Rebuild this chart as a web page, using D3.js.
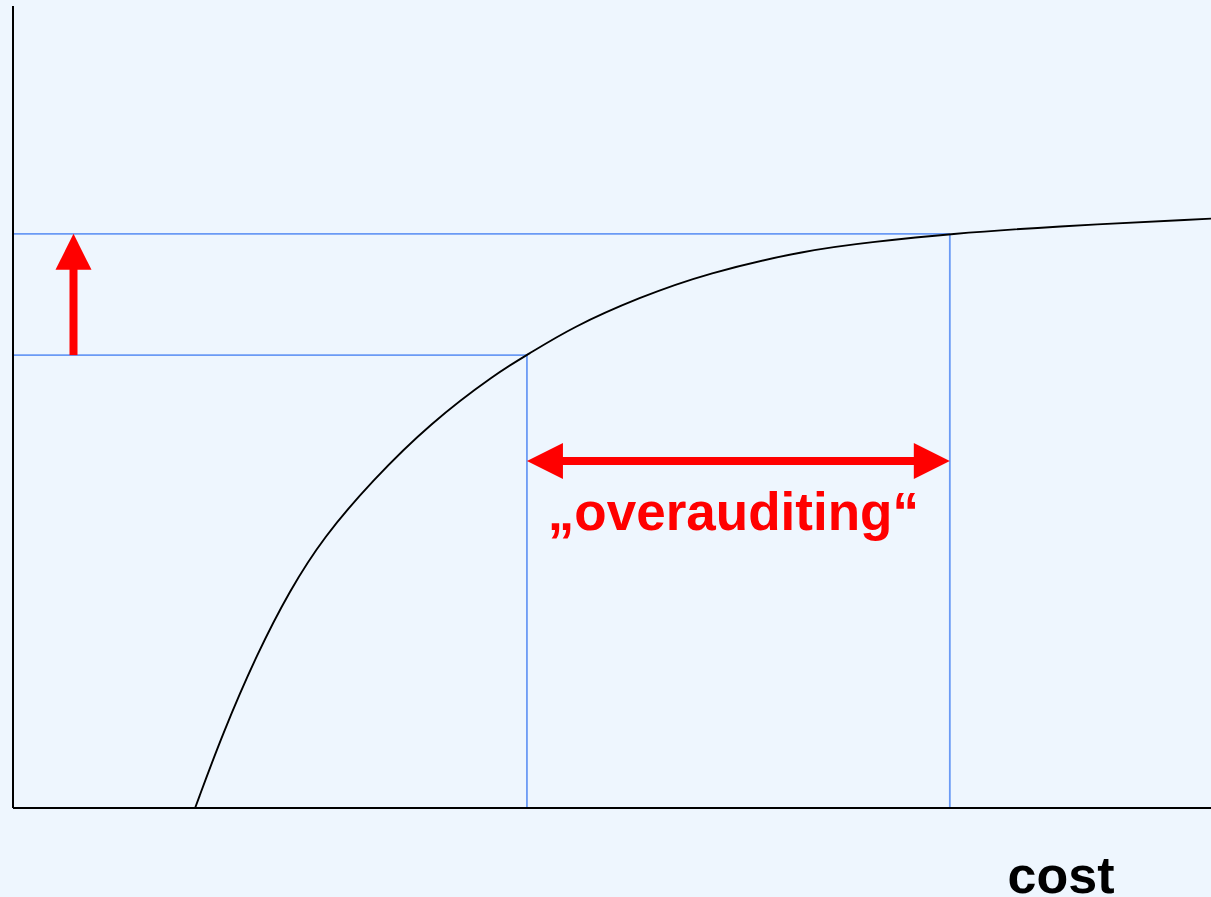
<!DOCTYPE html>
<html>
<head>
<meta charset="utf-8">
<script src="https://cdn.jsdelivr.net/npm/d3@7"></script>
<style>
  html, body { margin: 0; padding: 0; background: #eef6fe; }
  svg { display: block; }
</style>
</head>
<body>
<div id="chart"></div>
<script>
// curve: quality reached for a given audit cost
var costs   = [15.2, 17.5, 20.4, 23.1, 25.9, 30.0, 34.8, 40.4, 42.9, 46.7, 52.3, 57.9, 66.3, 71.8, 78.2, 86.6, 100];
var quality = [0,    9.3,  19.3, 27.1, 33.7, 40.8, 47.9, 54.2, 56.4, 59.9, 63.6, 66.6, 69.5, 70.5, 71.5, 72.4, 73.4];

// the two reference points (enough audit vs. overauditing)
var refCost    = [42.9, 78.2];
var refQuality = [56.4, 71.5];

var arrowCost = 5.05;
var label = "\u201Eoverauditing\u201C";
var xLabel = "cost";

var width = 1211;
var height = 897;

var x = d3.scaleLinear().domain([0, 100]).range([13, 1211]);
var y = d3.scaleLinear().domain([0, 100]).range([808, 5]);

var svg = d3.select("#chart")
    .append("svg")
    .attr("width", width)
    .attr("height", height);

svg.append("rect")
    .attr("width", width)
    .attr("height", height)
    .attr("fill", "#eef6fe");

// helper lines
var gRef = svg.append("g");
for (var i = 0; i < refCost.length; i++) {
    gRef.append("line")
        .attr("x1", x(0)).attr("x2", x(refCost[i]))
        .attr("y1", y(refQuality[i])).attr("y2", y(refQuality[i]))
        .attr("stroke", "#6a9af5").attr("stroke-width", 1.8);
    gRef.append("line")
        .attr("x1", x(refCost[i])).attr("x2", x(refCost[i]))
        .attr("y1", y(refQuality[i])).attr("y2", y(0))
        .attr("stroke", "#6a9af5").attr("stroke-width", 1.8);
}

// axes
svg.append("line")
    .attr("x1", x(0)).attr("x2", x(0))
    .attr("y1", y(100) + 1).attr("y2", y(0))
    .attr("stroke", "#000").attr("stroke-width", 2);
svg.append("line")
    .attr("x1", x(0)).attr("x2", x(100))
    .attr("y1", y(0)).attr("y2", y(0))
    .attr("stroke", "#000").attr("stroke-width", 2);

// curve
var line = d3.line()
    .x(function(d, i) { return x(costs[i]); })
    .y(function(d, i) { return y(quality[i]); })
    .curve(d3.curveBasis);

svg.append("path")
    .attr("d", line(costs))
    .attr("fill", "none")
    .attr("stroke", "#000")
    .attr("stroke-width", 1.9);

// red arrows
var red = "#ff0000";
var head = 36, halfHead = 18, shaft = 8;

var ax = x(arrowCost);
var yLow = y(refQuality[0]);
var yHigh = y(refQuality[1]);
svg.append("rect")
    .attr("x", ax - shaft / 2).attr("y", yHigh + head - 1)
    .attr("width", shaft).attr("height", yLow - yHigh - head + 1)
    .attr("fill", red);
svg.append("path")
    .attr("d", "M" + ax + "," + yHigh + "L" + (ax + halfHead) + "," + (yHigh + head) + "L" + (ax - halfHead) + "," + (yHigh + head) + "Z")
    .attr("fill", red);

var xa = x(refCost[0]);
var xb = x(refCost[1]);
var ay = 461;
svg.append("rect")
    .attr("x", xa + head - 1).attr("y", ay - shaft / 2)
    .attr("width", xb - xa - 2 * head + 2).attr("height", shaft)
    .attr("fill", red);
svg.append("path")
    .attr("d", "M" + xa + "," + ay + "L" + (xa + head) + "," + (ay - halfHead) + "L" + (xa + head) + "," + (ay + halfHead) + "Z")
    .attr("fill", red);
svg.append("path")
    .attr("d", "M" + xb + "," + ay + "L" + (xb - head) + "," + (ay - halfHead) + "L" + (xb - head) + "," + (ay + halfHead) + "Z")
    .attr("fill", red);

// texts
svg.append("text")
    .attr("x", (xa + xb) / 2 - 5)
    .attr("y", 530)
    .attr("text-anchor", "middle")
    .attr("font-family", "'Liberation Sans', Arial, sans-serif")
    .attr("font-weight", "bold")
    .attr("font-size", 53)
    .attr("fill", red)
    .text(label);

svg.append("text")
    .attr("x", 1061)
    .attr("y", 893)
    .attr("text-anchor", "middle")
    .attr("font-family", "'Liberation Sans', Arial, sans-serif")
    .attr("font-weight", "bold")
    .attr("font-size", 52)
    .attr("fill", "#000")
    .text(xLabel);
</script>
</body>
</html>
